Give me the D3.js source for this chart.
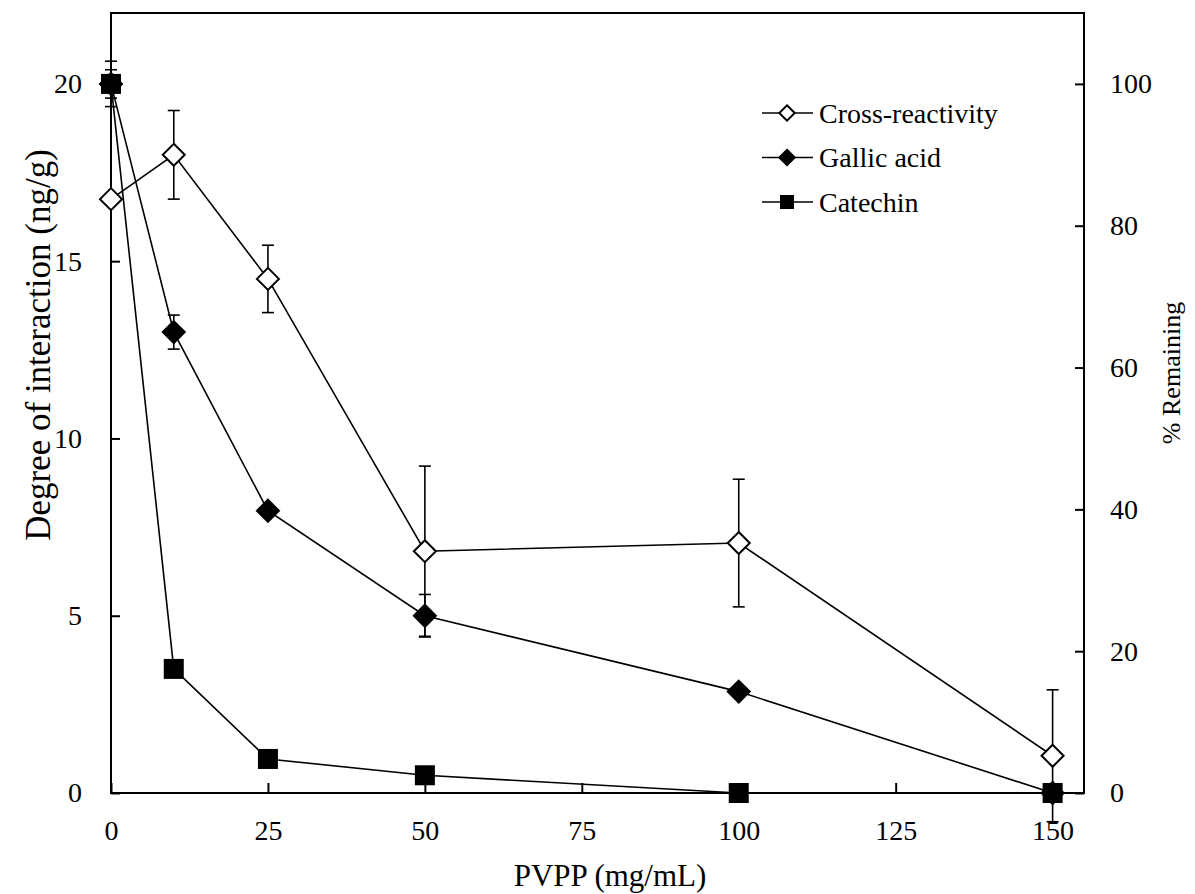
<!DOCTYPE html>
<html><head><meta charset="utf-8">
<script src="https://cdn.jsdelivr.net/npm/d3@7"></script>
<style>
body{margin:0;background:#fff;}
</style></head>
<body><svg id="c" width="1195" height="894"></svg>
<script>
const pvpp = [0, 10, 25, 50, 100, 150];
const crossReactivity = [16.75, 18.0, 14.5, 6.82, 7.05, 1.05];
const crossErr = [0, 1.25, 0.95, 2.4, 1.8, 1.86];
const gallicAcid = [100, 65, 39.8, 25, 14.3, 0];
const gallicErr = [2, 2.4, 0, 3, 0, 0];
const catechin = [100, 17.5, 4.8, 2.5, 0, 0];
const catechinErr = [3.2, 0, 0, 0, 0, 0];
const xTicks = [0, 25, 50, 75, 100, 125, 150];
const yLeftTicks = [0, 5, 10, 15, 20];
const yRightTicks = [0, 20, 40, 60, 80, 100];
const legendLabels = ["Cross-reactivity", "Gallic acid", "Catechin"];

const FONT = '"Liberation Serif","Times New Roman",Times,serif';
const L = 111, R = 1084, T = 13, B = 793;
const svg = d3.select("#c");
const x = d3.scaleLinear().domain([0, 155]).range([L, R]);
const yL = d3.scaleLinear().domain([0, 22]).range([B, T]);
const yR = d3.scaleLinear().domain([0, 110]).range([B, T]);

svg.append("rect").attr("x", L).attr("y", T).attr("width", R - L).attr("height", B - T)
  .attr("fill", "none").attr("stroke", "#000").attr("stroke-width", 2);

function styleAxis(g) {
  g.select(".domain").remove();
  g.selectAll("line").attr("stroke", "#000").attr("stroke-width", 2);
  g.selectAll("text").style("font-family", FONT).style("font-size", "28px").style("fill", "#000");
}
svg.append("g").attr("transform", `translate(0,${B})`)
  .call(d3.axisBottom(x).tickValues(xTicks).tickSize(-10).tickPadding(27).tickFormat(d3.format("d")))
  .call(styleAxis);
svg.append("g").attr("transform", `translate(${L},0)`)
  .call(d3.axisLeft(yL).tickValues(yLeftTicks).tickSize(-9).tickPadding(29).tickFormat(d3.format("d")))
  .call(styleAxis);
svg.append("g").attr("transform", `translate(${R},0)`)
  .call(d3.axisRight(yR).tickValues(yRightTicks).tickSize(-9).tickPadding(26).tickFormat(d3.format("d")))
  .call(styleAxis);

function txt(sel) { return sel.style("font-family", FONT).style("fill", "#000"); }
txt(svg.append("text").attr("x", 610).attr("y", 886).attr("text-anchor", "middle")
  .style("font-size", "31px").text("PVPP (mg/mL)"));
txt(svg.append("text").attr("transform", `translate(50,345) rotate(-90)`).attr("text-anchor", "middle")
  .style("font-size", "35px").text("Degree of interaction (ng/g)"));
txt(svg.append("text").attr("transform", `translate(1180,373) rotate(-90)`).attr("text-anchor", "middle")
  .style("font-size", "26px").text("% Remaining"));

const series = [
  {vals: crossReactivity, err: crossErr, y: yL, marker: "diamondOpen"},
  {vals: gallicAcid, err: gallicErr, y: yR, marker: "diamond"},
  {vals: catechin, err: catechinErr, y: yR, marker: "square"}
];

function drawMarker(g, type, cx, cy, s) {
  if (type === "square") {
    g.append("rect").attr("x", cx - s).attr("y", cy - s).attr("width", 2 * s).attr("height", 2 * s).attr("fill", "#000");
  } else {
    const h = s * 1.1;
    g.append("path").attr("d", `M${cx},${cy - h}L${cx + h},${cy}L${cx},${cy + h}L${cx - h},${cy}Z`)
      .attr("fill", type === "diamond" ? "#000" : "#fff").attr("stroke", "#000").attr("stroke-width", 2);
  }
}

const line = d3.line();
series.forEach(s => {
  const g = svg.append("g");
  pvpp.forEach((p, i) => {
    if (!s.err[i]) return;
    const cx = x(p), y1 = s.y(s.vals[i] + s.err[i]), y2 = s.y(s.vals[i] - s.err[i]);
    g.append("line").attr("x1", cx).attr("x2", cx).attr("y1", y1).attr("y2", y2).attr("stroke", "#000").attr("stroke-width", 1.6);
    [y1, y2].forEach(yy => g.append("line").attr("x1", cx - 6).attr("x2", cx + 6).attr("y1", yy).attr("y2", yy).attr("stroke", "#000").attr("stroke-width", 1.6));
  });
});
series.forEach(s => {
  svg.append("path").attr("d", line(pvpp.map((p, i) => [x(p), s.y(s.vals[i])])))
    .attr("fill", "none").attr("stroke", "#000").attr("stroke-width", 1.6);
});
series.forEach(s => {
  const g = svg.append("g");
  pvpp.forEach((p, i) => drawMarker(g, s.marker, x(p), s.y(s.vals[i]), 10));
});

const lg = svg.append("g");
legendLabels.forEach((lab, i) => {
  const yy = 113 + i * 44.5;
  lg.append("line").attr("x1", 762).attr("x2", 813).attr("y1", yy).attr("y2", yy).attr("stroke", "#000").attr("stroke-width", 1.6);
  drawMarker(lg, series[i].marker, 787, yy, 7);
  txt(lg.append("text").attr("x", 819).attr("y", yy).attr("dy", "0.35em").style("font-size", "28px").text(lab));
});
</script></body></html>
